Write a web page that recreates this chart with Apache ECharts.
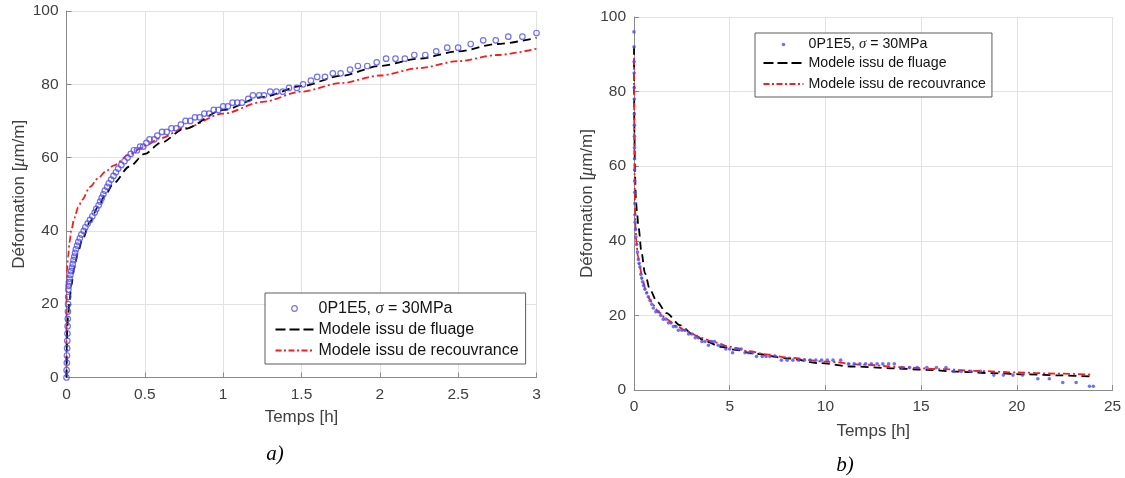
<!DOCTYPE html>
<html><head><meta charset="utf-8">
<script src="https://cdn.jsdelivr.net/npm/echarts@6/dist/echarts.min.js"></script>
<style>html,body{margin:0;padding:0;background:#fff}#c{width:1125px;height:478px}</style>
</head><body><div id="c"></div>
<script>
// ---- tick labels ----
const xTicksA = [0, 0.5, 1, 1.5, 2, 2.5, 3];
const xTicksB = [0, 5, 10, 15, 20, 25];
const yTicks = [0, 20, 40, 60, 80, 100];

// ---- texts ----
const xName = 'Temps [h]';
const yName = 'Déformation [{i|μ}m/m]';
const labelExp = '0P1E5, {i|σ} = 30MPa';
const labelFluage = 'Modele issu de fluage';
const labelRecouv = 'Modele issu de recouvrance';
const panelLabels = ['a)', 'b)'];

// ---- a) creep : [time h, strain µm/m] ----
const creepData = [[0,0],[0.001,2],[0.002,4],[0.003,6],[0.004,8],[0.005,10],[0.006,12],[0.007,14],[0.008,16],[0.009,18],[0.010,20],[0.011,22],[0.012,24],[0.014,25],[0.016,26],[0.02,27],[0.025,28],[0.03,29],[0.035,30],[0.04,31],[0.045,32],[0.05,33],[0.055,34],[0.06,35],[0.068,36],[0.075,37],[0.085,38],[0.095,39],[0.11,40],[0.12,41],[0.135,42],[0.15,43],[0.165,44],[0.18,45],[0.19,46],[0.205,47],[0.215,48],[0.225,49],[0.235,50],[0.245,51],[0.26,52],[0.27,53],[0.285,54],[0.3,55],[0.315,56],[0.33,57],[0.35,58],[0.37,59],[0.39,60],[0.41,61],[0.43,62],[0.45,62],[0.47,63],[0.49,63],[0.51,64],[0.53,65],[0.56,65],[0.58,66],[0.61,67],[0.64,67],[0.67,68],[0.70,68],[0.73,69],[0.76,70],[0.79,70],[0.82,71],[0.85,71],[0.88,72],[0.91,72],[0.94,73],[0.97,73],[1.00,74],[1.03,74],[1.06,75],[1.09,75],[1.12,75],[1.16,76],[1.19,77],[1.23,77],[1.26,77],[1.30,78],[1.34,78],[1.38,78],[1.42,79],[1.47,79],[1.51,80],[1.56,81],[1.60,82],[1.65,82],[1.70,83],[1.75,83],[1.81,84],[1.86,85],[1.92,85],[1.98,86],[2.04,87],[2.10,87],[2.16,87],[2.22,88],[2.29,88],[2.36,89],[2.43,90],[2.50,90],[2.58,91],[2.66,92],[2.74,92],[2.82,93],[2.91,93],[3.0,94]];
const creepFluage = [[0,0],[0.002,8],[0.005,13],[0.01,17],[0.02,21],[0.03,25],[0.05,30],[0.075,34.5],[0.1,37.5],[0.15,42.5],[0.2,46.5],[0.25,50],[0.3,53],[0.4,57.5],[0.5,61],[0.6,64],[0.75,67.8],[1.0,73],[1.25,76.5],[1.5,79.5],[1.75,82.3],[2.0,85],[2.25,87],[2.5,89],[2.75,91],[3.0,92.7]];
const creepRecouv = [[0,0],[0.0003,18],[0.001,25],[0.003,29],[0.006,31],[0.01,33],[0.02,37],[0.03,40],[0.05,43.5],[0.075,46.5],[0.1,48.5],[0.15,52],[0.2,54.3],[0.25,56.2],[0.3,57.8],[0.4,60.8],[0.5,63.2],[0.6,65.3],[0.75,68],[1.0,72],[1.25,75.2],[1.5,78],[1.75,80.3],[2.0,82.4],[2.25,84.4],[2.5,86.3],[2.75,88],[3.0,89.7]];

// ---- b) recovery : [time h, strain µm/m] ----
const recovData = [[0,96],[0.003,92],[0.006,88],[0.009,85],[0.012,81],[0.015,78],[0.018,74],[0.021,71],[0.024,68],[0.027,65],[0.03,62],[0.033,59],[0.036,56],[0.04,53],[0.045,50],[0.05,47],[0.06,45],[0.08,43],[0.1,41],[0.14,39],[0.18,37],[0.23,35],[0.27,34],[0.31,33],[0.36,31],[0.4,30],[0.45,29],[0.5,28],[0.57,27],[0.66,26],[0.75,25],[0.84,24],[0.93,23],[1.01,22],[1.14,21],[1.27,21],[1.4,20],[1.53,19],[1.67,19],[1.8,18],[1.93,18],[2.06,17],[2.2,17],[2.32,16],[2.5,16],[2.67,16],[2.85,15],[3.02,15],[3.2,14],[3.36,14],[3.55,13],[3.71,13],[3.89,12],[4.05,13],[4.2,13],[4.4,12],[4.6,12],[4.8,11],[5.0,11],[5.15,10],[5.3,11],[5.45,11],[5.6,11],[5.8,10],[6.0,10],[6.2,10],[6.4,9],[6.7,9],[6.9,9],[7.1,9],[7.4,9],[7.7,8],[8.0,8],[8.3,8],[8.6,8],[8.9,8],[9.2,8],[9.5,8],[9.8,8],[10.1,8],[10.4,8],[10.8,8],[11.2,7],[11.5,7],[11.8,7],[12.1,7],[12.4,7],[12.7,7],[13.0,7],[13.3,7],[13.6,7],[14.0,6],[14.4,6],[14.8,6],[15.3,6],[15.8,6],[16.3,6],[16.7,5],[17.1,5],[17.6,5],[18.1,5],[18.8,4],[19.3,4],[19.8,4],[20.3,4],[21.1,3],[21.7,3],[22.4,2],[23.1,2],[23.8,1],[24.0,1]];
const recovFluage = [[0,92],[0.02,70],[0.05,58],[0.1,51],[0.15,48],[0.23,43.8],[0.4,36.7],[0.57,31.3],[0.84,26.8],[1.2,23.7],[1.7,20.6],[2.4,17.4],[3.1,14.8],[3.8,13],[4.5,11.6],[5.4,10.7],[6.2,9.8],[8,8.5],[9.7,7.2],[11.4,6.3],[13.6,5.8],[15.3,5.4],[17,4.9],[18.8,4.5],[20.5,4.2],[22.3,3.9],[24,3.6]];
const recovRecouv = [[0,89],[0.01,75],[0.02,65],[0.03,58],[0.05,50],[0.08,44],[0.12,40],[0.2,36],[0.3,33],[0.45,29.5],[0.6,27],[0.8,24.5],[1.0,22.8],[1.3,20.8],[1.7,19],[2.2,17.2],[2.8,15.6],[3.5,14],[4.2,12.8],[5,11.6],[6,10.4],[7,9.5],[8,8.7],[10,7.6],[12,6.8],[14,6.1],[16,5.6],[18,5.1],[20,4.7],[22,4.4],[24,4.1]];

// ---- styling ----
const FONT = 'Liberation Sans, Arial, Helvetica, sans-serif';
const SERIF = 'Liberation Serif, Times New Roman, serif';
const BLUE = '#4d4df0', RED = '#ff1a1a', BLACK = '#000000';
const TXT = '#404040', AX = '#8a8a8a', GRIDC = '#e2e2e2';
const ICON_DOT = 'path://M0,0M38,16M21.8,8A2.8,2.8,0,1,1,16.2,8A2.8,2.8,0,1,1,21.8,8Z';
const ICON_DOT_B = 'path://M0,0M40,15M21.8,7.5A1.8,1.8,0,1,1,18.2,7.5A1.8,1.8,0,1,1,21.8,7.5Z';
const ICON_LINE = 'path://M0,0M38,16M0,8L38,8';
const ICON_LINE_B = 'path://M0,0M40,15M0,7.5L40,7.5';

const LEGEND_TEXT = {expA: labelExp, fluA: labelFluage, recA: labelRecouv, expB: labelExp, fluB: labelFluage, recB: labelRecouv};

function mkX(gi, ticks, gap) {
  return {
    type: 'value', gridIndex: gi, min: ticks[0], max: ticks[ticks.length - 1], interval: ticks[1] - ticks[0],
    name: xName, nameLocation: 'middle', nameGap: gap,
    nameTextStyle: {fontFamily: FONT, fontSize: 17, color: TXT},
    axisLine: {show: true, onZero: false, lineStyle: {color: AX, width: 1}},
    axisTick: {show: true, inside: true, length: 5, lineStyle: {color: AX}},
    axisLabel: {margin: 9, fontFamily: FONT, fontSize: 15.5, color: TXT},
    splitLine: {show: true, lineStyle: {color: GRIDC, width: 1}}
  };
}
function mkY(gi) {
  return {
    type: 'value', gridIndex: gi, min: yTicks[0], max: yTicks[yTicks.length - 1], interval: yTicks[1] - yTicks[0],
    name: yName, nameLocation: 'middle', nameGap: 38, nameRotate: 90,
    nameTextStyle: {fontFamily: FONT, fontSize: 17, color: TXT,
      rich: {i: {fontFamily: SERIF, fontStyle: 'italic', fontSize: 18, color: TXT}}},
    axisLine: {show: true, onZero: false, lineStyle: {color: AX, width: 1}},
    axisTick: {show: true, inside: true, length: 5, lineStyle: {color: AX}},
    axisLabel: {margin: 8, fontFamily: FONT, fontSize: 15.5, color: TXT},
    splitLine: {show: true, lineStyle: {color: GRIDC, width: 1}}
  };
}
function mkLegend(pos, names, icons, w, h, fs, pad, gap) {
  return {
    left: pos[0], top: pos[1], orient: 'vertical', padding: pad, itemGap: gap,
    itemWidth: w, itemHeight: h, selectedMode: false,
    backgroundColor: '#ffffff', borderColor: '#5c5c5c', borderWidth: 1, borderRadius: 0,
    formatter: n => LEGEND_TEXT[n],
    textStyle: {fontFamily: FONT, fontSize: fs, color: '#141414', lineHeight: h,
      rich: {i: {fontFamily: SERIF, fontStyle: 'italic', fontSize: fs + 0.5, lineHeight: h, color: '#141414'}}},
    data: [
      {name: names[0], icon: icons[0], itemStyle: {color: names[0] === 'expA' ? 'none' : BLUE, borderColor: BLUE, borderWidth: names[0] === 'expA' ? 1.2 : 0}},
      {name: names[1], icon: icons[1], itemStyle: {color: 'none', borderColor: BLACK, borderWidth: 2, borderType: [10, 4]}},
      {name: names[2], icon: icons[1], itemStyle: {color: 'none', borderColor: RED, borderWidth: 2, borderType: [6, 2.5, 2, 2.5]}}
    ]
  };
}

const option = {
  animation: false,
  backgroundColor: '#ffffff',
  grid: [
    {left: 66.5, top: 11, width: 470, height: 366.5},
    {left: 634, top: 17, width: 478.5, height: 373}
  ],
  xAxis: [mkX(0, xTicksA, 31), mkX(1, xTicksB, 33)],
  yAxis: [mkY(0), mkY(1)],
  legend: [
    mkLegend([265, 293], ['expA', 'fluA', 'recA'], [ICON_DOT, ICON_LINE], 38, 16, 16, [5, 7, 3, 8], 0),
    mkLegend([755, 33], ['expB', 'fluB', 'recB'], [ICON_DOT_B, ICON_LINE_B], 40, 15, 14.2, [4, 6, 3, 6], 1)
  ],
  series: [
    {type: 'line', name: 'recA', xAxisIndex: 0, yAxisIndex: 0, data: creepRecouv, symbol: 'none', smooth: 0.3, smoothMonotone: 'x',
      lineStyle: {color: RED, width: 1.8, type: [7, 3, 2, 3]}, z: 2},
    {type: 'line', name: 'fluA', xAxisIndex: 0, yAxisIndex: 0, data: creepFluage, symbol: 'none', smooth: 0.3, smoothMonotone: 'x',
      lineStyle: {color: BLACK, width: 1.8, type: [8, 5]}, z: 2},
    {type: 'scatter', name: 'expA', xAxisIndex: 0, yAxisIndex: 0, data: creepData, symbol: 'circle', symbolSize: 5.5,
      itemStyle: {color: 'rgba(0,0,0,0)', borderColor: BLUE, borderWidth: 1.2}, z: 3},
    {type: 'line', name: 'fluB', xAxisIndex: 1, yAxisIndex: 1, data: recovFluage, symbol: 'none', smooth: 0.3, smoothMonotone: 'x',
      lineStyle: {color: BLACK, width: 1.8, type: [8, 5]}, z: 2},
    {type: 'scatter', name: 'expB', xAxisIndex: 1, yAxisIndex: 1, data: recovData, symbol: 'circle', symbolSize: 3.6,
      itemStyle: {color: BLUE}, z: 3},
    {type: 'line', name: 'recB', xAxisIndex: 1, yAxisIndex: 1, data: recovRecouv, symbol: 'none', smooth: 0.3, smoothMonotone: 'x',
      lineStyle: {color: RED, width: 1.8, type: [7, 3, 2, 3]}, z: 2}
  ],
  graphic: [
    {type: 'text', x: 275, y: 454, style: {text: panelLabels[0], font: 'italic 21px ' + SERIF, fill: '#000', textAlign: 'center', textVerticalAlign: 'middle'}},
    {type: 'text', x: 845, y: 465, style: {text: panelLabels[1], font: 'italic 21px ' + SERIF, fill: '#000', textAlign: 'center', textVerticalAlign: 'middle'}}
  ]
};

const chart = echarts.init(document.getElementById('c'), null, {renderer: 'canvas'});
chart.setOption(option);
</script>
</body></html>
